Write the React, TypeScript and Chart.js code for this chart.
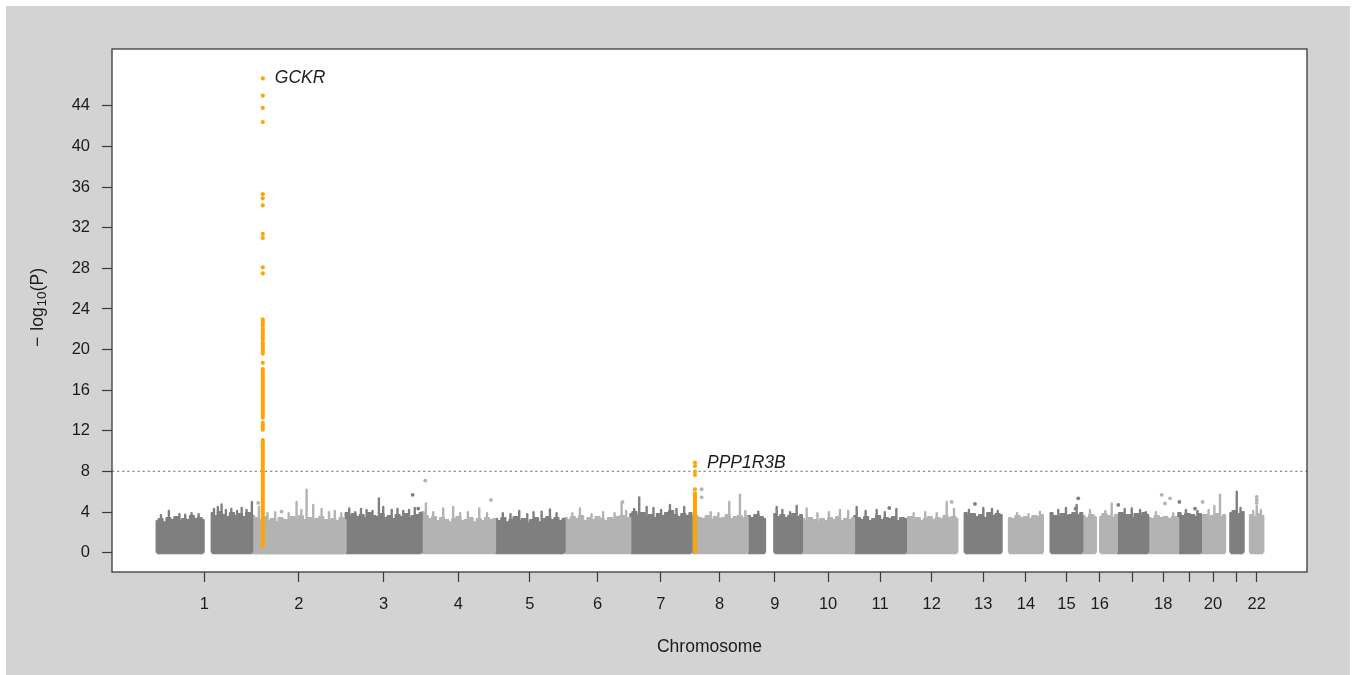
import { useEffect, useRef } from 'react';
import { Chart, registerables } from 'chart.js';

Chart.register(...registerables);

// ---------------- data ----------------
const CHROMOSOMES = [1, 2, 3, 4, 5, 6, 7, 8, 9, 10, 11, 12, 13, 14, 15, 16, 17, 18, 19, 20, 21, 22];
const CHR_LENGTH_MB = [249.25, 243.2, 198.0, 191.15, 180.9, 171.1, 159.1, 146.4, 141.2, 135.5, 135.0, 133.85, 115.2, 107.35, 102.5, 90.35, 81.2, 78.1, 59.1, 63.0, 48.1, 51.3];
const X_TICK_LABELS = ['1', '2', '3', '4', '5', '6', '7', '8', '9', '10', '11', '12', '13', '14', '15', '16', '', '18', '', '20', '', '22'];
const Y_TICKS = [0, 4, 8, 12, 16, 20, 24, 28, 32, 36, 40, 44];
const X_TITLE = 'Chromosome';
const Y_TITLE_PARTS = ['\u2212', 'log', '10', '(P)'];
const THRESHOLD = 8;

// covered range of each chromosome (Mb), split at centromere gaps
const CHR_SEGMENTS_MB: number[][][] = [
  [[0.75, 123], [144, 249.2]],
  [[0.01, 243.1]],
  [[0.06, 197.9]],
  [[0.07, 191.0]],
  [[0.1, 180.7]],
  [[0.2, 171.0]],
  [[0.05, 159.0]],
  [[0.16, 146.3]],
  [[0.2, 45], [69, 141.1]],
  [[0.1, 135.4]],
  [[0.2, 134.9]],
  [[0.1, 133.8]],
  [[19.0, 115.1]],
  [[19.0, 107.3]],
  [[20.0, 102.4]],
  [[0.08, 35.3], [46.5, 90.2]],
  [[0.05, 81.1]],
  [[0.1, 78.0]],
  [[0.26, 59.0]],
  [[0.06, 62.9]],
  [[13.5, 48.1]],
  [[16.5, 51.2]],
];

// upper edge of the dense band of SNPs (-log10 P), evenly along each segment
const SKYLINE: number[][][] = [
  [[3.1, 3.3, 3.0, 3.4, 3.2, 3.5, 3.1, 3.3, 3.2, 3.6, 3.3, 3.4, 3.2], [3.9, 3.6, 4.0, 3.7, 3.5, 3.9, 3.6, 3.8, 3.5, 3.9, 3.7]],
  [[3.6, 3.4, 3.2, 3.5, 3.1, 3.3, 3.0, 3.4, 3.2, 3.1, 3.5, 3.3, 3.6, 3.2, 3.4, 3.1, 3.3, 3.5, 3.2, 3.0, 3.3, 3.1, 3.4, 3.2]],
  [[3.9, 3.6, 3.8, 3.5, 3.7, 3.4, 3.9, 3.6, 3.5, 3.8, 3.4, 3.6, 3.3, 3.7, 3.5, 3.8, 3.4, 3.6, 3.7, 3.9]],
  [[4.0, 3.6, 3.3, 3.5, 3.1, 3.4, 3.2, 3.0, 3.3, 3.5, 3.1, 3.2, 3.4, 3.0, 3.3, 3.1, 3.4, 3.2, 3.3]],
  [[3.3, 3.1, 3.4, 3.0, 3.2, 3.5, 3.1, 3.3, 2.9, 3.2, 3.4, 3.0, 3.3, 3.5, 3.2, 3.4, 3.1, 3.3]],
  [[3.4, 3.2, 3.5, 3.3, 3.6, 3.1, 3.4, 3.2, 3.5, 3.3, 3.1, 3.4, 3.2, 3.5, 3.6, 3.3, 3.4]],
  [[3.8, 4.0, 3.6, 3.9, 3.5, 3.7, 3.4, 3.8, 3.6, 3.9, 4.1, 3.7, 3.5, 3.8, 3.6, 3.9]],
  [[3.5, 3.6, 3.4, 3.3, 3.6, 3.2, 3.5, 3.3, 3.4, 3.7, 3.3, 3.5, 3.6, 3.4, 3.5]],
  [[3.6, 3.4, 3.7, 3.5, 3.3], [3.8, 3.5, 3.7, 3.4, 3.6, 3.8, 3.5, 3.7]],
  [[3.3, 3.1, 3.4, 3.2, 3.0, 3.3, 3.1, 3.4, 3.2, 3.5, 3.1, 3.3, 3.2, 3.4]],
  [[3.6, 3.4, 3.2, 3.5, 3.1, 3.3, 3.6, 3.2, 3.4, 3.3, 3.5, 3.1, 3.4, 3.3]],
  [[3.3, 3.5, 3.2, 3.4, 3.1, 3.3, 3.5, 3.2, 3.4, 3.3, 3.6, 3.4, 3.5, 3.3]],
  [[3.9, 3.6, 3.8, 3.5, 3.7, 3.4, 3.9, 3.6, 3.8, 3.7]],
  [[3.4, 3.3, 3.6, 3.4, 3.5, 3.3, 3.6, 3.5, 3.7]],
  [[3.9, 3.6, 3.5, 3.8, 3.6, 3.7, 3.9, 3.7, 3.9]],
  [[3.6, 3.4, 3.7, 3.5], [3.5, 3.8, 3.6, 3.4, 3.7]],
  [[3.6, 3.9, 3.5, 3.7, 3.4, 3.8, 3.6, 3.9, 3.7]],
  [[3.4, 3.3, 3.6, 3.4, 3.5, 3.3, 3.5, 3.4]],
  [[3.9, 3.6, 3.8, 3.7, 3.5, 3.8]],
  [[3.5, 3.7, 3.4, 3.6, 3.8, 3.5, 3.7]],
  [[3.9, 4.1, 3.8, 4.0]],
  [[3.7, 3.5, 3.8, 3.6]],
];

// narrow columns of SNPs rising above the band: [chromosome, position Mb, top]
const SPIKES: number[][] = [
  [1, 12, 3.7], [1, 32.5, 4.1], [1, 60, 3.8], [1, 75, 3.75], [1, 91.6, 3.9], [1, 110, 3.8],
  [1, 150, 4.3], [1, 160, 4.5], [1, 169.7, 4.75], [1, 181, 4.2], [1, 195, 4.3], [1, 210, 4.1], [1, 222, 4.4], [1, 234.7, 4.2], [1, 248.5, 5.0],
  [2, 17.6, 4.5], [2, 40, 3.9], [2, 60, 4.0], [2, 95, 3.9], [2, 115.6, 5.0], [2, 128, 4.2], [2, 141.7, 6.2], [2, 159, 4.7], [2, 180.8, 4.3], [2, 200, 4.0], [2, 215, 4.1], [2, 232, 3.9],
  [3, 9.4, 4.35], [3, 25, 4.0], [3, 40, 4.3], [3, 54.6, 4.2], [3, 70, 4.1], [3, 86.7, 5.35], [3, 97.9, 4.5], [3, 120, 4.2], [3, 135, 4.3], [3, 150, 4.1], [3, 165, 4.2], [3, 180, 4.4],
  [4, 11, 4.85], [4, 30, 4.0], [4, 56, 4.35], [4, 82, 4.5], [4, 100, 3.9], [4, 120, 4.0], [4, 149.8, 4.35], [4, 170, 3.9],
  [5, 20, 3.9], [5, 40, 3.8], [5, 62.7, 4.1], [5, 83.6, 3.8], [5, 100, 4.0], [5, 121, 4.05], [5, 142.6, 4.25], [5, 160, 3.9],
  [6, 20, 3.9], [6, 39.8, 4.35], [6, 70, 3.8], [6, 100, 4.0], [6, 130, 3.9], [6, 148.3, 4.9], [6, 160, 4.1],
  [7, 10, 4.3], [7, 23, 5.45], [7, 42.3, 4.5], [7, 60, 4.4], [7, 80, 4.2], [7, 103, 4.7], [7, 120, 4.3], [7, 140, 4.5],
  [8, 50, 4.0], [8, 70, 3.9], [8, 98.2, 5.0], [8, 126, 5.7], [8, 140, 4.1],
  [9, 27.3, 4.05], [9, 75.2, 4.5], [9, 90, 4.2], [9, 110, 4.0], [9, 127.3, 4.6],
  [10, 12, 4.35], [10, 40, 3.9], [10, 70, 4.0], [10, 98.7, 4.2], [10, 120, 4.1],
  [11, 6.7, 4.5], [11, 30, 4.1], [11, 58.7, 4.2], [11, 80, 4.0], [11, 110, 4.3],
  [12, 20, 3.9], [12, 50, 4.0], [12, 80, 3.9], [12, 106, 5.0], [12, 125, 4.3],
  [13, 30, 4.2], [13, 67.4, 4.4], [13, 90, 4.3], [13, 105, 4.1],
  [14, 40, 3.9], [14, 70, 3.8], [14, 99.7, 4.05],
  [15, 40, 4.2], [15, 60, 4.4], [15, 87.8, 4.7],
  [16, 20, 4.2], [16, 60, 4.1], [16, 76.5, 4.85],
  [17, 20, 4.3], [17, 38.3, 4.35], [17, 60, 4.2], [17, 75, 4.0],
  [18, 20, 4.0], [18, 65, 3.9],
  [19, 20, 4.2], [19, 50, 4.1],
  [20, 20, 4.2], [20, 35, 4.6], [20, 49.7, 5.7],
  [21, 30.2, 6.0], [21, 40, 4.4],
  [22, 25, 4.1], [22, 34.1, 4.6], [22, 45, 4.2],
];

// isolated SNPs: [chromosome, position Mb, -log10 P]
const OUTLIERS: number[][] = [
  [2, 15.7, 4.9], [2, 76.6, 4.05], [3, 174.4, 5.7], [3, 189, 4.35], [4, 9.2, 7.1], [4, 180.2, 5.2],
  [6, 150.5, 5.0], [8, 26.3, 6.25], [8, 26.3, 5.45], [11, 91.6, 4.4], [12, 119, 5.0], [13, 45.8, 4.8],
  [15, 92, 5.35], [15, 85, 4.35], [17, 3.4, 4.7], [18, 35.1, 5.7], [18, 43.7, 4.85], [18, 56.8, 5.35],
  [19, 3, 5.0], [19, 43.7, 4.35], [20, 4.5, 5.0], [22, 34.1, 4.9], [22, 34.1, 5.2], [22, 34.1, 5.5],
];

// highlighted loci
const GCKR_RUNS = [[0.6, 11.1], [12.1, 12.8], [13.3, 18.1], [19.6, 20.7], [21.0, 22.0], [22.3, 23.0]];
const GCKR_DOTS = [18.7, 27.5, 28.1, 31.0, 31.4, 34.2, 34.9, 35.3, 42.4, 43.8, 45.0, 46.7];
const PPP1R3B_RUNS = [[0.1, 5.85]];
const PPP1R3B_DOTS = [6.24, 7.65, 7.98, 8.54, 8.87];
const HITS = [
  { gene: 'GCKR', chr: 2, posMb: 27.7, runs: GCKR_RUNS, dots: GCKR_DOTS },
  { gene: 'PPP1R3B', chr: 8, posMb: 9.0, runs: PPP1R3B_RUNS, dots: PPP1R3B_DOTS },
];

// ---------------- styling ----------------
const FONT = "'Liberation Sans', Arial, Helvetica, sans-serif";
const TEXT_COLOR = '#1c1c1c';
const CHR_COLORS = ['#7f7f7f', '#b3b3b3'];
const HIT_COLOR = '#ffa500';
const X_MIN = -115.5;
const X_MAX = 2994.5;
const Y_MIN = -1.9;
const Y_MAX = 49.6;

const OFFSETS: number[] = [];
CHR_LENGTH_MB.reduce((acc, len, i) => {
  OFFSETS[i] = acc;
  return acc + len;
}, 0);
const toX = (chr: number, mb: number) => OFFSETS[chr - 1] + mb;
const chrColor = (chr: number) => CHR_COLORS[(chr - 1) % 2];
const TICK_POSITIONS = CHROMOSOMES.map((c, i) => {
  const segs = CHR_SEGMENTS_MB[i];
  return toX(c, (segs[0][0] + segs[segs.length - 1][1]) / 2);
});

function buildDatasets() {
  const ds: any[] = [];
  // highlighted loci (on top)
  HITS.forEach((h) => {
    const x = toX(h.chr, h.posMb);
    h.runs.forEach((r) => {
      ds.push({
        type: 'line',
        data: [{ x, y: r[0] }, { x, y: r[1] }],
        borderColor: HIT_COLOR,
        borderWidth: 4,
        borderCapStyle: 'round',
        pointRadius: 0,
        fill: false,
      });
    });
    ds.push({
      type: 'scatter',
      data: h.dots.map((y) => ({ x, y })),
      backgroundColor: HIT_COLOR,
      borderWidth: 0,
      pointRadius: 2.1,
    });
  });
  // isolated gray points
  ds.push({
    type: 'scatter',
    data: OUTLIERS.map((o) => ({ x: toX(o[0], o[1]), y: o[2] })),
    backgroundColor: OUTLIERS.map((o) => chrColor(o[0])),
    borderWidth: 0,
    pointRadius: 1.9,
  });
  // genome-wide threshold
  ds.push({
    type: 'line',
    data: [{ x: X_MIN, y: THRESHOLD }, { x: X_MAX, y: THRESHOLD }],
    borderColor: '#8c8c8c',
    borderWidth: 1.3,
    borderDash: [2.2, 2.9],
    pointRadius: 0,
    fill: false,
  });
  // spikes, one dataset per colour
  [0, 1].forEach((parity) => {
    const data: any[] = [];
    SPIKES.filter((s) => (s[0] - 1) % 2 === parity).forEach((s) => {
      const x = toX(s[0], s[1]);
      data.push({ x, y: 3.0 }, { x, y: s[2] }, { x, y: null });
    });
    ds.push({
      type: 'line',
      data,
      borderColor: CHR_COLORS[parity],
      borderWidth: 2.4,
      borderCapStyle: 'round',
      spanGaps: false,
      pointRadius: 0,
      fill: false,
    });
  });
  // dense bands
  CHROMOSOMES.forEach((c, i) => {
    CHR_SEGMENTS_MB[i].forEach((seg, si) => {
      const hs = SKYLINE[i][si];
      const n = hs.length;
      const [s, e] = seg;
      const data = [{ x: toX(c, s), y: 0 }];
      hs.forEach((v, k) => data.push({ x: toX(c, s + (k * (e - s)) / (n - 1)), y: v }));
      data.push({ x: toX(c, e), y: 0 });
      ds.push({
        type: 'line',
        data,
        borderColor: chrColor(c),
        backgroundColor: chrColor(c),
        borderWidth: 2.2,
        borderJoinStyle: 'round',
        stepped: 'middle',
        pointRadius: 0,
        fill: { value: -0.15 },
      });
    });
  });
  return ds;
}

const backgroundPlugin = {
  id: 'bg',
  beforeDraw(chart: any) {
    const { ctx, chartArea: a, width, height } = chart;
    ctx.save();
    ctx.fillStyle = '#ffffff';
    ctx.fillRect(0, 0, width, height);
    ctx.fillStyle = '#d3d3d3';
    ctx.fillRect(6, 6, width - 11, height - 6);
    ctx.fillStyle = '#ffffff';
    ctx.fillRect(a.left, a.top, a.right - a.left, a.bottom - a.top);
    ctx.restore();
  },
};

const overlayPlugin = {
  id: 'overlay',
  afterDraw(chart: any) {
    const { ctx, chartArea: a, scales } = chart;
    ctx.save();
    // frame
    ctx.strokeStyle = '#3a3a3a';
    ctx.lineWidth = 1.3;
    ctx.strokeRect(a.left, a.top, a.right - a.left, a.bottom - a.top);
    // gene labels
    ctx.fillStyle = TEXT_COLOR;
    ctx.font = `italic 17.5px ${FONT}`;
    ctx.textBaseline = 'middle';
    ctx.textAlign = 'left';
    HITS.forEach((h) => {
      const top = Math.max(...h.dots);
      const px = scales.x.getPixelForValue(toX(h.chr, h.posMb));
      const py = scales.y.getPixelForValue(top);
      ctx.fillText(h.gene, px + 12, py);
    });
    // y title with subscript
    const big = `17.5px ${FONT}`;
    const small = `13.5px ${FONT}`;
    const gapAfterMinus = 6;
    const gapBeforeSub = 1;
    ctx.font = big;
    const wMinus = ctx.measureText(Y_TITLE_PARTS[0]).width;
    const wLog = ctx.measureText(Y_TITLE_PARTS[1]).width;
    const wP = ctx.measureText(Y_TITLE_PARTS[3]).width;
    ctx.font = small;
    const wSub = ctx.measureText(Y_TITLE_PARTS[2]).width;
    const total = wMinus + gapAfterMinus + wLog + gapBeforeSub + wSub + wP;
    ctx.translate(38, (a.top + a.bottom) / 2 - 3);
    ctx.rotate(-Math.PI / 2);
    let x0 = -total / 2;
    ctx.font = big;
    ctx.fillText(Y_TITLE_PARTS[0], x0, 0);
    x0 += wMinus + gapAfterMinus;
    ctx.fillText(Y_TITLE_PARTS[1], x0, 0);
    x0 += wLog + gapBeforeSub;
    ctx.font = small;
    ctx.fillText(Y_TITLE_PARTS[2], x0, 4);
    x0 += wSub;
    ctx.font = big;
    ctx.fillText(Y_TITLE_PARTS[3], x0, 0);
    ctx.restore();
  },
};

export default function App() {
  const ref = useRef<HTMLCanvasElement>(null);
  useEffect(() => {
    document.body.style.margin = '0';
    const canvas = ref.current;
    if (!canvas) return;
    const chart = new Chart(canvas, {
      type: 'line',
      data: { datasets: buildDatasets() },
      options: {
        responsive: false,
        maintainAspectRatio: false,
        devicePixelRatio: 1,
        animation: false,
        events: [],
        layout: { padding: { top: 49, right: 48, left: 0, bottom: 0 } },
        plugins: { legend: { display: false }, tooltip: { enabled: false } },
        scales: {
          x: {
            type: 'linear',
            min: X_MIN,
            max: X_MAX,
            afterBuildTicks: (s: any) => {
              s.ticks = TICK_POSITIONS.map((v) => ({ value: v }));
            },
            afterFit: (s: any) => {
              s.height = 103;
            },
            ticks: {
              autoSkip: false,
              maxRotation: 0,
              minRotation: 0,
              padding: 13,
              color: TEXT_COLOR,
              font: { family: FONT, size: 16.5 },
              callback: (_v: any, i: number) => X_TICK_LABELS[i],
            },
            grid: { drawOnChartArea: false, drawTicks: true, tickLength: 10, tickColor: '#3a3a3a', tickWidth: 1.2 },
            border: { display: false },
            title: {
              display: true,
              text: X_TITLE,
              color: TEXT_COLOR,
              font: { family: FONT, size: 17.5 },
              padding: { top: 0, bottom: 17.5 },
            },
          },
          y: {
            type: 'linear',
            min: Y_MIN,
            max: Y_MAX,
            afterBuildTicks: (s: any) => {
              s.ticks = Y_TICKS.map((v) => ({ value: v }));
            },
            afterFit: (s: any) => {
              s.width = 112;
            },
            ticks: {
              padding: 12,
              color: TEXT_COLOR,
              font: { family: FONT, size: 16.5 },
              callback: (v: any) => String(v),
            },
            grid: { drawOnChartArea: false, drawTicks: true, tickLength: 10, tickColor: '#3a3a3a', tickWidth: 1.2 },
            border: { display: false },
          },
        },
      } as any,
      plugins: [backgroundPlugin, overlayPlugin],
    });
    return () => chart.destroy();
  }, []);
  return (
    <div style={{ position: 'absolute', left: 0, top: 0, width: 1355, height: 675 }}>
      <canvas ref={ref} width={1355} height={675} style={{ display: 'block', width: 1355, height: 675 }} />
    </div>
  );
}
